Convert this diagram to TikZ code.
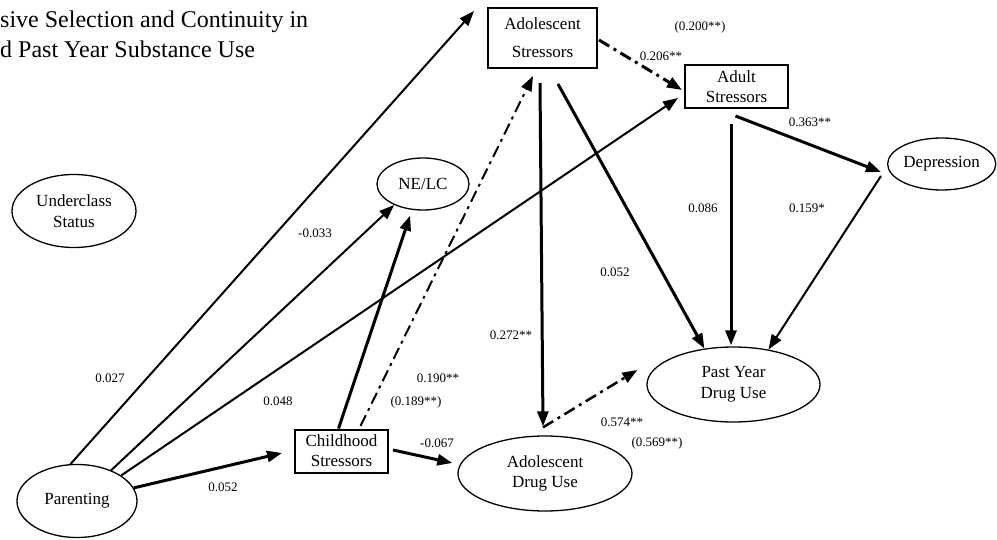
\documentclass[tikz,border=0pt]{standalone}
\usepackage{fontspec}
\setmainfont{Liberation Serif}
\usetikzlibrary{shapes.geometric,arrows.meta,calc}
\begin{document}
\begin{tikzpicture}[x=1pt,y=-1pt,
  lbl/.style={font=\fontsize{13}{15}\selectfont, inner sep=0},
  oval/.style={ellipse, draw, line width=1.3pt, inner sep=0, align=center,
               font=\fontsize{17}{20.5}\selectfont},
  box/.style={rectangle, draw, line width=2pt, inner sep=0, align=center,
              font=\fontsize{17}{20}\selectfont},
  tip/.style={-{Triangle[length=15pt,width=11pt]}},
  heavy/.style={tip, line width=3pt},
  light/.style={tip, line width=2pt},
  dashdot/.style={dash pattern=on 12pt off 5pt on 3pt off 5pt},
]
\useasboundingbox (0,0) rectangle (997,540);

% title
\node[anchor=base west, inner sep=0, font=\fontsize{24}{28}\selectfont] (title1) at (0,28) {sive Selection and Continuity in};
\node[anchor=base west, inner sep=0, font=\fontsize{24}{28}\selectfont] (title2) at (0,58) {d Past Year Substance Use};

% latent variables and observed stressors
\node[oval, minimum width=120, minimum height=73] (par) at (77,501) {Parenting};
\node[oval, minimum width=124, minimum height=73] (und) at (74,211) {Underclass\\Status};
\node[oval, minimum width=92, minimum height=52] (nelc) at (423,184) {NE/LC};
\node[oval, minimum width=107, minimum height=52] (dep) at (941.7,164) {Depression};
\node[oval, minimum width=173, minimum height=75] (pydu) at (733.5,384.5) {Past Year\\Drug Use};
\node[oval, minimum width=174, minimum height=75] (adu) at (545,473.5) {Adolescent\\Drug Use};
\node[box, minimum width=109, minimum height=60, font=\fontsize{17}{28}\selectfont] (ast) at (542.5,38) {Adolescent\\Stressors};
\node[box, minimum width=103, minimum height=43] (adst) at (736.5,86.5) {Adult\\Stressors};
\node[box, minimum width=93, minimum height=43] (cst) at (341.5,451) {Childhood\\Stressors};

% paths
\draw[light] (par.100) -- ($(ast.north west)+(-13,4)$);
\draw[light] (par.42) -- (nelc.216);
\draw[light] (par.30) -- ($(adst.west)+(-6,11.5)$);
\draw[heavy] (par.13) -- ($(cst.west)+(-12,2)$);
\draw[heavy, shorten >=6pt] ($(cst.north)+(-3,0)$) -- (nelc.247);
\draw[light, dashdot] ($(cst.north)+(19,-2.5)$) -- ($(ast.south)+(-9.5,7)$);
\draw[heavy] ($(cst.east)+(4,-1)$) -- ($(adu.west)+(-5,-10.5)$);
\draw[heavy] ($(ast.south)+(-2.5,14)$) -- ($(adu.north)+(-2,-9)$);
\draw[heavy] ($(ast.south)+(15.5,15)$) -- (pydu.129);
\draw[heavy, dashdot] ($(ast.east)+(1,2)$) -- ($(adst.west)+(-2,3.5)$);
\draw[heavy] ($(adst.south)+(-1,7)$) -- ($(dep.west)+(-6,8)$);
\draw[heavy] ($(adst.south)+(-5.5,15)$) -- ($(pydu.north)+(-2.5,-1)$);
\draw[light] ($(dep.west)+(-6,12)$) -- (pydu.45);
\draw[tip, line width=2.5pt, dashdot] ($(adu.north)+(-2,-8)$) -- ($(pydu.west)+(-9,-14.5)$);

% coefficients
\node[lbl] (c1) at (700,27) {(0.200**)};
\node[lbl] (c2) at (661,56) {0.206**};
\node[lbl] (c3) at (810,122) {0.363**};
\node[lbl] (c4) at (703,208) {0.086};
\node[lbl] (c5) at (807,208) {0.159*};
\node[lbl] (c6) at (615,272) {0.052};
\node[lbl] (c7) at (511,335) {0.272**};
\node[lbl] (c8) at (438,378) {0.190**};
\node[lbl] (c9) at (416,402) {(0.189**)};
\node[lbl] (c10) at (622,422) {0.574**};
\node[lbl] (c11) at (657,443) {(0.569**)};
\node[lbl] (c12) at (437,443) {-0.067};
\node[lbl] (c13) at (223,487) {0.052};
\node[lbl] (c14) at (110,378) {0.027};
\node[lbl] (c15) at (278,401) {0.048};
\node[lbl] (c16) at (315,233) {-0.033};
\end{tikzpicture}
\end{document}
